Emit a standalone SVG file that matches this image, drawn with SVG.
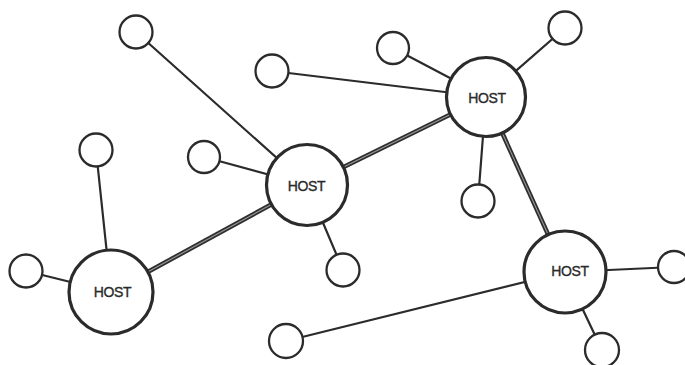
<svg xmlns="http://www.w3.org/2000/svg" width="685" height="365" viewBox="0 0 685 365">
<style>
.host{fill:#fff;stroke:#2b2b2b;stroke-width:3.2}
.node{fill:#fff;stroke:#2b2b2b;stroke-width:2.3}
.thin{stroke:#2b2b2b;stroke-width:2.2;fill:none;stroke-linecap:round}
.trunk{stroke:#2e2e2e;stroke-width:4.6;fill:none}
.trunkc{stroke:#9a9a9a;stroke-width:1.1;fill:none}
.lbl{font-family:"Liberation Sans",Arial,sans-serif;font-size:14px;fill:#2a2a2a;text-anchor:middle;dominant-baseline:central;letter-spacing:-0.4px;stroke:#2a2a2a;stroke-width:0.35}
</style>
<rect width="685" height="365" fill="#fff"/>
<g id="connectors">
<line class="thin" x1="136" y1="32" x2="307" y2="185"/>
<line class="thin" x1="272" y1="71" x2="486" y2="97"/>
<line class="thin" x1="393" y1="48" x2="486" y2="97"/>
<line class="thin" x1="565" y1="28" x2="486" y2="97"/>
<line class="thin" x1="204" y1="157" x2="307" y2="185"/>
<line class="thin" x1="96" y1="150" x2="111" y2="292"/>
<line class="thin" x1="26" y1="271" x2="111" y2="292"/>
<line class="thin" x1="486" y1="97" x2="478" y2="201"/>
<line class="thin" x1="307" y1="185" x2="343" y2="270"/>
<line class="thin" x1="286" y1="341" x2="565" y2="272"/>
<line class="thin" x1="565" y1="272" x2="674" y2="267"/>
<line class="thin" x1="565" y1="272" x2="602" y2="350"/>
<line class="trunk" x1="111" y1="292" x2="307" y2="185"/>
<line class="trunkc" x1="111" y1="292" x2="307" y2="185"/>
<line class="trunk" x1="307" y1="185" x2="486" y2="97"/>
<line class="trunkc" x1="307" y1="185" x2="486" y2="97"/>
<line class="trunk" x1="486" y1="97" x2="565" y2="272"/>
<line class="trunkc" x1="486" y1="97" x2="565" y2="272"/>
</g>
<g id="n1"><circle class="node" cx="136" cy="32" r="16.5"/></g>
<g id="n2"><circle class="node" cx="272" cy="71" r="16.5"/></g>
<g id="n3"><circle class="node" cx="393" cy="48" r="16"/></g>
<g id="n4"><circle class="node" cx="565" cy="28" r="16.5"/></g>
<g id="n5"><circle class="node" cx="204" cy="157" r="16"/></g>
<g id="n6"><circle class="node" cx="96" cy="150" r="16.5"/></g>
<g id="n7"><circle class="node" cx="478" cy="201" r="16.5"/></g>
<g id="n8"><circle class="node" cx="343" cy="270" r="16.5"/></g>
<g id="n9"><circle class="node" cx="26" cy="271" r="16.5"/></g>
<g id="n10"><circle class="node" cx="674" cy="267" r="16"/></g>
<g id="n11"><circle class="node" cx="286" cy="341" r="17"/></g>
<g id="n12"><circle class="node" cx="602" cy="350" r="17"/></g>
<g id="host1"><circle class="host" cx="486" cy="97" r="39.5"/><text class="lbl" x="487" y="98">HOST</text></g>
<g id="host2"><circle class="host" cx="307" cy="185" r="40.5"/><text class="lbl" x="306.5" y="185.5">HOST</text></g>
<g id="host3"><circle class="host" cx="111" cy="292" r="42"/><text class="lbl" x="112.5" y="291.5">HOST</text></g>
<g id="host4"><circle class="host" cx="565" cy="272" r="41"/><text class="lbl" x="570" y="271">HOST</text></g>
</svg>
